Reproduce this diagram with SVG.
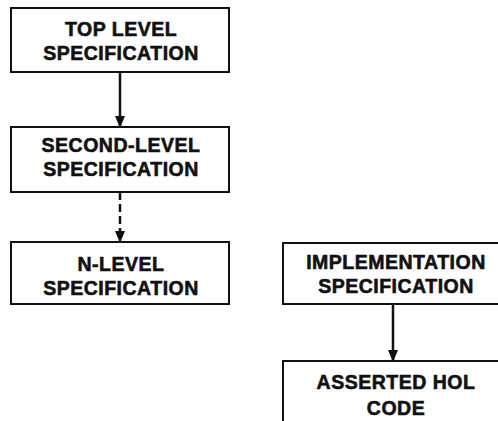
<svg xmlns="http://www.w3.org/2000/svg" width="498" height="421" viewBox="0 0 498 421">
  <style>
    .box { fill: #fff; stroke: #111; stroke-width: 2; }
    .edge { fill: none; stroke: #111; stroke-width: 2.5; }
    .dashed { stroke-dasharray: 8 4; }
    .label { font-family: "Liberation Sans", Arial, sans-serif; font-weight: bold; font-size: 19.5px; letter-spacing: 0.5px; fill: #111; stroke: #111; stroke-width: 0.6; text-anchor: middle; }
  </style>
  <defs>
    <marker id="arrow" markerUnits="userSpaceOnUse" markerWidth="10" markerHeight="14" refX="11" refY="5" orient="auto">
      <path d="M0,0 L12,5 L0,10 Z" fill="#111"/>
    </marker>
  </defs>
  <rect width="498" height="421" fill="#fff"/>

  <g id="connectors">
    <line class="edge" x1="120" y1="72" x2="120" y2="127" marker-end="url(#arrow)"/>
    <line class="edge dashed" x1="120" y1="192" x2="120" y2="242" marker-end="url(#arrow)"/>
    <line class="edge" x1="393" y1="304" x2="393" y2="361" marker-end="url(#arrow)"/>
  </g>

  <g id="top-level">
    <rect class="box" x="11" y="8" width="218" height="64"/>
    <text class="label" x="121" y="36">TOP LEVEL</text>
    <text class="label" x="121" y="60">SPECIFICATION</text>
  </g>

  <g id="second-level">
    <rect class="box" x="11" y="127" width="218" height="65"/>
    <text class="label" x="121" y="152">SECOND-LEVEL</text>
    <text class="label" x="121" y="176">SPECIFICATION</text>
  </g>

  <g id="n-level">
    <rect class="box" x="11" y="242" width="218" height="62"/>
    <text class="label" x="121" y="271">N-LEVEL</text>
    <text class="label" x="121" y="295">SPECIFICATION</text>
  </g>

  <g id="implementation">
    <path class="box" d="M499,243 H283 V304 H499"/>
    <text class="label" x="396" y="269">IMPLEMENTATION</text>
    <text class="label" x="396" y="293">SPECIFICATION</text>
  </g>

  <g id="asserted-hol">
    <path class="box" d="M499,361 H283 V422"/>
    <text class="label" x="396" y="389">ASSERTED HOL</text>
    <text class="label" x="396" y="415">CODE</text>
  </g>
</svg>
